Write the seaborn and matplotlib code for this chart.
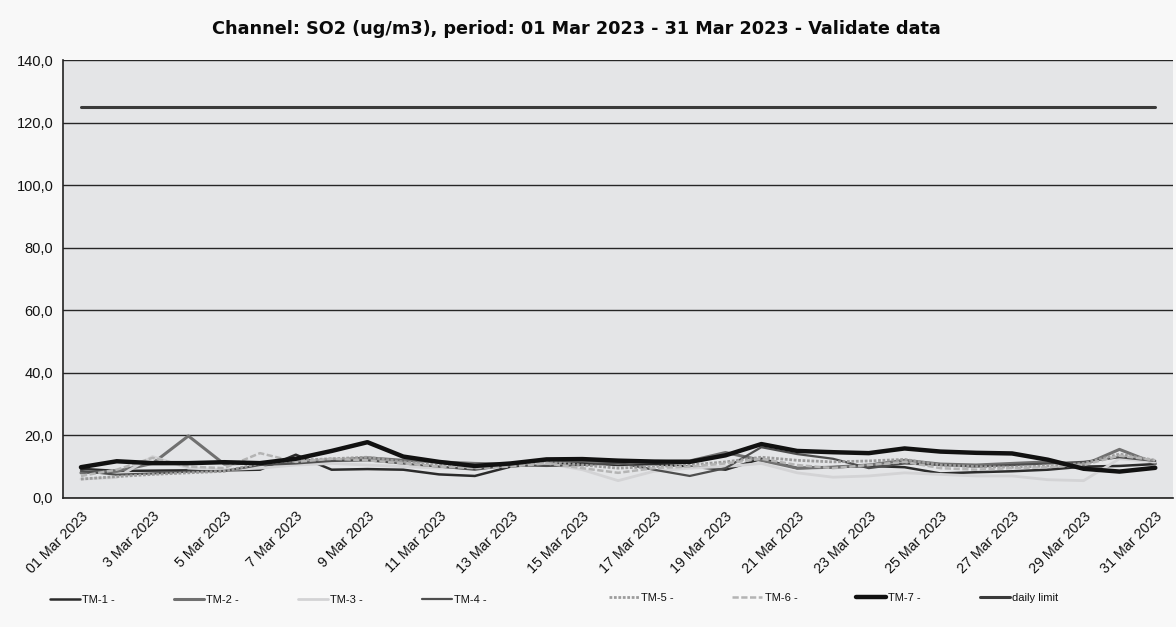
import numpy as np
import pandas as pd
import seaborn as sns
import matplotlib
matplotlib.use('Agg')
import matplotlib.pyplot as plt
from matplotlib.lines import Line2D

days = list(range(1, 32))
day_labels = ['01 Mar 2023'] + [f'{d} Mar 2023' for d in range(3, 32, 2)]

tm1 = [9.3, 8.6, 8.7, 8.8, 8.8, 9.0, 13.8, 9.0, 9.2, 9.0, 7.5, 7.0, 10.0, 11.0, 11.2, 10.5,
       10.8, 10.0, 9.0, 12.5, 9.5, 9.8, 10.2, 9.8, 7.8, 8.2, 8.5, 9.0, 10.0, 10.2, 10.8]
tm2 = [8.0, 8.5, 11.0, 19.8, 10.8, 11.2, 11.5, 12.0, 12.8, 12.0, 11.5, 11.0, 10.8, 11.5, 11.8, 11.0,
       11.5, 11.8, 14.5, 12.0, 9.5, 9.8, 10.5, 12.0, 10.8, 10.5, 11.0, 11.5, 10.5, 15.5, 11.0]
tm3 = [6.0, 6.5, 13.2, 9.5, 9.0, 9.5, 10.5, 11.0, 10.5, 10.0, 9.5, 10.0, 10.5, 11.0, 9.0, 5.5,
       8.5, 9.5, 10.0, 11.0, 8.0, 6.6, 7.0, 8.0, 7.5, 7.0, 7.0, 5.8, 5.5, 12.5, 11.5]
tm4 = [8.6, 7.4, 7.8, 8.4, 8.6, 10.5, 11.0, 11.8, 12.0, 11.0, 10.0, 9.0, 10.5, 10.2, 10.5, 11.2,
       9.0, 7.0, 9.5, 16.2, 14.0, 12.5, 9.5, 11.0, 10.5, 10.0, 10.5, 11.0, 11.5, 13.0, 11.8]
tm5 = [6.0, 6.8, 7.5, 8.0, 8.5, 11.0, 12.0, 12.5, 13.0, 11.5, 10.5, 10.0, 10.8, 11.5, 10.5, 9.5,
       10.0, 10.5, 11.5, 13.0, 12.0, 11.5, 11.8, 12.3, 10.5, 10.0, 9.8, 10.2, 11.0, 14.0, 12.0]
tm6 = [7.0, 9.0, 12.8, 10.0, 9.5, 14.3, 11.5, 12.5, 12.0, 11.0, 10.0, 9.5, 10.0, 11.0, 9.5, 8.0,
       9.5, 10.0, 11.0, 12.5, 10.5, 9.5, 10.5, 11.5, 9.5, 9.0, 9.5, 9.8, 10.5, 13.5, 12.0]
tm7 = [9.8, 11.7, 11.1, 11.1, 11.4, 11.1, 12.5, 15.0, 17.8, 13.2, 11.5, 10.2, 11.0, 12.3, 12.4, 11.9,
       11.6, 11.5, 13.6, 17.2, 15.0, 14.6, 14.3, 15.8, 14.8, 14.4, 14.2, 12.2, 9.3, 8.4, 9.6]
daily_limit = [125.0] * 31

sns.set_style('white')
plt.rcParams['font.family'] = ['Liberation Sans', 'DejaVu Sans']
plt.rcParams['text.color'] = '#111111'
plt.rcParams['xtick.color'] = '#111111'
plt.rcParams['ytick.color'] = '#111111'

# name, values, color, width, dash
series = [
    ('TM-1 -', tm1, '#2b2b2b', 1.8, '-'),
    ('TM-2 -', tm2, '#707070', 2.2, '-'),
    ('TM-3 -', tm3, '#d3d3d5', 2.0, '-'),
    ('TM-4 -', tm4, '#4e4e4e', 1.6, '-'),
    ('TM-5 -', tm5, '#9c9c9c', 2.0, (0, (1, 0.6))),
    ('TM-6 -', tm6, '#b4b4b4', 1.8, (0, (2.5, 1))),
    ('TM-7 -', tm7, '#111111', 3.2, '-'),
    ('daily limit', daily_limit, '#3a3a3a', 2.2, '-'),
]

fig = plt.figure(figsize=(11.76, 6.27), dpi=100, facecolor='#f8f8f8')
ax = fig.add_axes([0.0536, 0.206, 0.944, 0.698])
ax.set_facecolor('#e4e5e7')

x = np.arange(len(days))
for name, vals, color, lw, ls in series:
    sns.lineplot(x=x, y=vals, ax=ax, color=color, linewidth=lw, linestyle=ls)

ax.set_xlim(-0.5, 30.5)
ax.set_ylim(0, 140)
ax.set_yticks(range(0, 141, 20))
ax.set_yticklabels([f'{v},0' for v in range(0, 141, 20)], fontsize=10.5)
ax.yaxis.grid(True, color='#262626', linewidth=1.0)
ax.set_axisbelow(True)

ax.set_xticks(range(0, 31, 2))
ax.set_xticklabels(day_labels, rotation=45, ha='right', rotation_mode='anchor', fontsize=10.3)
ax.set_xticks(np.arange(-0.5, 31, 1), minor=True)
ax.tick_params(axis='x', which='major', length=0, pad=8)
ax.tick_params(axis='x', which='minor', length=4, width=1, color='#222222', direction='out')
ax.tick_params(axis='y', length=4, width=1, color='#222222', direction='out', pad=3)

for side in ['top', 'right']:
    ax.spines[side].set_visible(False)
for side in ['left', 'bottom']:
    ax.spines[side].set_color('#222222')
    ax.spines[side].set_linewidth(1.2)

fig.suptitle('Channel: SO2 (ug/m3), period: 01 Mar 2023 - 31 Mar 2023 - Validate data',
             fontsize=12.7, fontweight='bold', family='DejaVu Sans', x=0.49, y=0.968,
             color='#0a0a0a')

handles = [Line2D([0], [0], color=c, linewidth=lw, linestyle=ls) for _, _, c, lw, ls in series]
names = [s[0] for s in series]
leg_kw = dict(ncol=4, frameon=False, fontsize=8, handlelength=2.7, handletextpad=0.2,
              columnspacing=5.3, loc='center left')
fig.legend(handles[:4], names[:4], bbox_to_anchor=(0.034, 0.043), **leg_kw)
fig.legend(handles[4:], names[4:], bbox_to_anchor=(0.509, 0.047), **leg_kw)

plt.savefig('out.png', dpi=100, facecolor=fig.get_facecolor())
